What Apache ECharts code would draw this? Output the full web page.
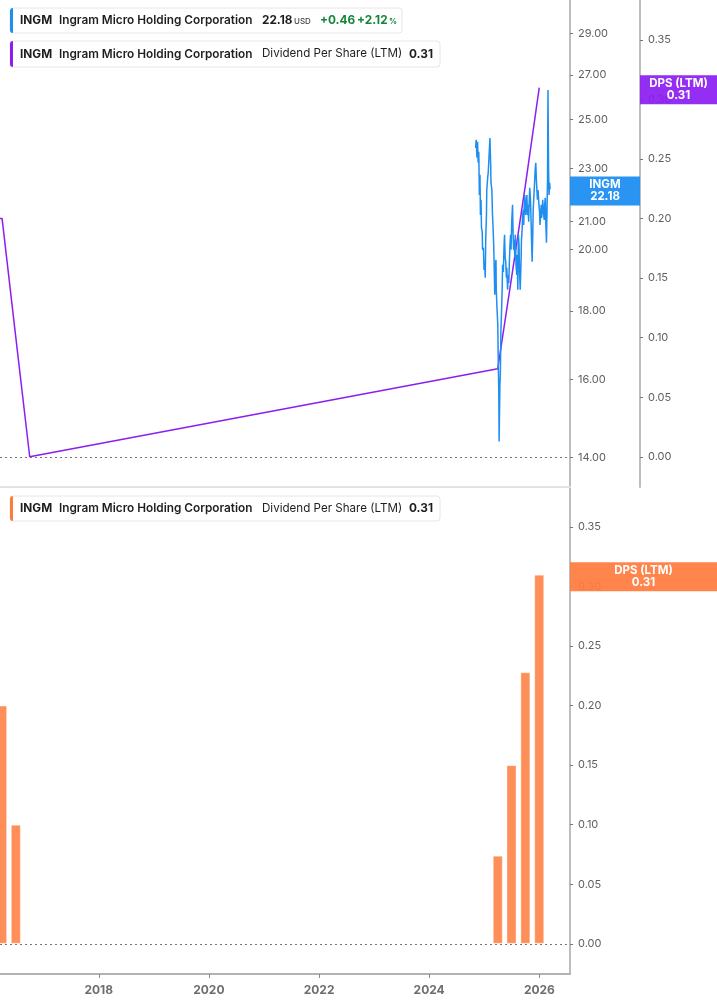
<!DOCTYPE html>
<html>
<head>
<meta charset="utf-8">
<script src="https://cdn.jsdelivr.net/npm/echarts@6/dist/echarts.min.js"></script>
<style>
html,body{margin:0;padding:0;background:#fff;}
#chart{width:717px;height:1005px;}
</style>
</head>
<body>
<div id="chart"></div>
<script>
// ---- Data ----
var priceDates = [
'2024-11-04','2024-11-08','2024-11-13','2024-11-17','2024-11-21','2024-11-25','2024-11-29','2024-12-03','2024-12-06','2024-12-10',
'2024-12-13','2024-12-18','2024-12-20','2024-12-26','2024-12-30','2025-01-03','2025-01-07','2025-01-10','2025-01-15','2025-01-17',
'2025-01-23','2025-01-27','2025-01-31','2025-02-04','2025-02-07','2025-02-12','2025-02-14','2025-02-20','2025-02-24','2025-02-28',
'2025-03-04','2025-03-07','2025-03-11','2025-03-14','2025-03-19','2025-03-21','2025-03-27','2025-03-31','2025-04-03','2025-04-07',
'2025-04-09','2025-04-14','2025-04-17','2025-04-21','2025-04-25','2025-04-29','2025-05-02','2025-05-07','2025-05-12','2025-05-15',
'2025-05-19','2025-05-23','2025-05-27','2025-05-30','2025-06-04','2025-06-09','2025-06-12','2025-06-16','2025-06-20','2025-06-24',
'2025-06-27','2025-07-02','2025-07-07','2025-07-10','2025-07-14','2025-07-18','2025-07-22','2025-07-25','2025-07-30','2025-08-04',
'2025-08-07','2025-08-11','2025-08-15','2025-08-19','2025-08-22','2025-08-27','2025-09-02','2025-09-04','2025-09-08','2025-09-12',
'2025-09-16','2025-09-19','2025-09-24','2025-09-26','2025-10-02','2025-10-06','2025-10-10','2025-10-14','2025-10-17','2025-10-22',
'2025-10-24','2025-10-29','2025-11-03','2025-11-06','2025-11-10','2025-11-14','2025-11-18','2025-11-21','2025-11-26','2025-12-01',
'2025-12-04','2025-12-08','2025-12-12','2025-12-16','2025-12-19','2025-12-23','2025-12-29','2026-01-02','2026-01-05','2026-01-09',
'2026-01-13','2026-01-16','2026-01-21','2026-01-23','2026-01-28','2026-02-02','2026-02-05','2026-02-09','2026-02-13','2026-02-17',
'2026-02-20','2026-02-24','2026-02-27','2026-03-03','2026-03-06','2026-03-10','2026-03-13'
];
var priceValues = [
23.82,24.15,23.42,24.07,23.22,23.66,21.97,22.75,21.23,21.79,
20.76,20.62,20.00,20.07,19.32,19.59,19.06,20.34,21.23,22.16,
22.63,22.86,23.34,23.82,24.23,23.14,22.43,22.16,21.23,20.76,
20.17,19.49,18.51,19.39,19.66,18.67,17.98,17.59,16.56,15.59,
14.39,15.86,16.14,17.43,17.98,18.67,19.49,19.25,20.17,20.52,
19.73,19.59,19.06,19.39,18.67,19.15,18.89,19.59,20.17,20.52,
20.00,21.05,21.60,20.69,20.00,20.34,19.73,20.52,19.49,19.15,
19.83,18.67,20.52,20.17,19.32,18.67,19.73,20.34,20.62,21.23,
21.42,20.87,21.79,21.97,21.23,21.60,21.97,21.23,21.60,20.98,
21.42,22.24,21.79,21.23,20.34,19.59,20.52,21.42,21.97,22.55,
22.94,23.22,22.55,22.09,21.79,22.16,21.60,21.35,20.87,21.23,
21.60,21.12,21.42,21.79,21.35,21.05,21.60,21.86,20.87,20.24,
21.23,22.55,26.31,22.94,21.97,22.43,22.18
];
var dpsDates = ['2015-12-31','2016-03-31','2016-06-30','2016-09-30','2025-03-31','2025-06-30','2025-09-30','2025-12-31'];
var dpsValues = [0.20, 0.20, 0.10, 0.00, 0.074, 0.15, 0.228, 0.31];
var priceTicks = [14, 16, 18, 20, 21, 23, 25, 27, 29];
var dpsTicks = [0, 0.05, 0.10, 0.15, 0.20, 0.25, 0.30, 0.35];
var yearTicks = ['2018-01-01','2020-01-01','2022-01-01','2024-01-01','2026-01-01'];
var lastPrice = 22.18, lastDps = 0.31;
var priceRange = [13.31, 30.70];
var dpsRange = [-0.0254, 0.3836];
var timeRange = ['2016-03-17', '2026-07-23'];

// ---- Chart ----
var FONT = 'Inter, "Noto Sans", sans-serif';
var BLUE = '#1f8ef1', PURPLE = '#8c1ef2', ORANGE = '#ff8f59', ORANGE_BOX = 'rgba(255,124,64,0.93)';
var HIDDEN = 'rgba(0,0,0,0)';
var chart = echarts.init(document.getElementById('chart'), null, {renderer: 'canvas'});
function ts(d) { return +echarts.number.parseDate(d); }

var priceData = priceDates.map(function (d, i) { return [ts(d), Math.log(priceValues[i])]; });
var dpsData = dpsDates.map(function (d, i) { return [ts(d), dpsValues[i]]; });
var yearTickTs = yearTicks.map(ts);

function xAxisBase(grid, showLabels) {
  return {
    type: 'value', gridIndex: grid, min: ts(timeRange[0]), max: ts(timeRange[1]),
    axisLine: showLabels ? {show: true, onZero: false, lineStyle: {color: '#b3b3b3', width: 2}}
                         : {show: true, onZero: false, lineStyle: {color: '#e2e2e2', width: 2}},
    axisTick: {show: showLabels, customValues: yearTickTs, length: 4, lineStyle: {color: '#888'}},
    axisLabel: {show: showLabels, customValues: yearTickTs, margin: 10,
      formatter: function (v) { return String(new Date(v + 43200000).getFullYear()); },
      color: '#6e6e6e', fontWeight: 'bold', fontSize: 12, fontFamily: FONT},
    splitLine: {show: false}
  };
}
function dpsAxis(grid, offset) {
  return {
    type: 'value', gridIndex: grid, position: 'right', offset: offset,
    min: dpsRange[0], max: dpsRange[1],
    axisLine: {show: true, onZero: false, lineStyle: {color: '#bdbdbd', width: 2}},
    axisTick: {show: true, length: 3, customValues: dpsTicks, lineStyle: {color: '#777'}},
    axisLabel: {customValues: dpsTicks, margin: 8, formatter: function (v) { return v.toFixed(2); },
      color: '#5f5f5f', fontSize: 11, fontFamily: FONT},
    splitLine: {show: false}
  };
}
function boxLabel(title, value, color, w, dist) {
  return {
    show: true, position: 'end', distance: dist, opacity: 1, offset: [0, 2],
    formatter: '{a|' + title + '}\n{a|' + value + '}',
    backgroundColor: color, padding: [2, 0, 3, 0],
    rich: {a: {width: w, align: 'center', color: '#fff', fontWeight: 'bold', fontSize: 11.5, lineHeight: 12, fontFamily: FONT}}
  };
}
var zeroLine = {yAxis: 0, lineStyle: {type: [2, 3], color: '#777', width: 1}, label: {show: false}};

function legendBox(y, h, barColor, w, pieces) {
  var children = [
    {type: 'rect', shape: {x: 10, y: y, width: w, height: h, r: 3}, style: {fill: '#fff', stroke: '#e6e6e6', lineWidth: 1}},
    {type: 'rect', shape: {x: 10, y: y, width: 3, height: h, r: [3, 0, 0, 3]}, style: {fill: barColor}}
  ];
  pieces.forEach(function (p) {
    children.push({type: 'text', style: {text: p[0], x: p[1], y: y + h / 2 + (p[4] || 0), verticalAlign: 'middle',
      font: p[2] + ' ' + FONT, fill: p[3] || '#1e1e1e'}});
  });
  return {type: 'group', children: children, z: 100};
}
var GREEN = '#15853a';
var graphic = [
  legendBox(8, 25, BLUE, 392, [
    ['INGM', 20, '700 11.8px'], ['Ingram Micro Holding Corporation', 59, '600 11.8px'],
    [lastPrice.toFixed(2), 262, '700 11.8px'], ['USD', 294, '500 8px', '#444', 1.5],
    ['+0.46', 320, '700 11.8px', GREEN], ['+2.12', 357, '700 11.8px', GREEN], ['%', 389, '600 8px', GREEN, 1.5]
  ]),
  legendBox(41, 26, PURPLE, 430, [
    ['INGM', 20, '700 11.8px'], ['Ingram Micro Holding Corporation', 59, '600 11.8px'],
    ['Dividend Per Share (LTM)', 262, '400 11.6px'], [lastDps.toFixed(2), 409, '700 11.8px']
  ]),
  legendBox(496, 25, '#ff7a3d', 430, [
    ['INGM', 20, '700 11.8px'], ['Ingram Micro Holding Corporation', 59, '600 11.8px'],
    ['Dividend Per Share (LTM)', 262, '400 11.6px'], [lastDps.toFixed(2), 409, '700 11.8px']
  ])
];

var option = {
  animation: false,
  backgroundColor: '#fff',
  textStyle: {fontFamily: FONT},
  grid: [
    {left: 0, right: 147, top: 0, height: 487},
    {left: 0, right: 147, top: 487, height: 487}
  ],
  xAxis: [xAxisBase(0, false), xAxisBase(1, true)],
  yAxis: [
    {
      type: 'value', gridIndex: 0, position: 'right',
      min: Math.log(priceRange[0]), max: Math.log(priceRange[1]),
      axisLine: {show: true, onZero: false, lineStyle: {color: '#bdbdbd', width: 2}},
      axisTick: {show: true, length: 3, customValues: priceTicks.map(Math.log), lineStyle: {color: '#777'}},
      axisLabel: {customValues: priceTicks.map(Math.log), margin: 8,
        formatter: function (v) { return Math.exp(v).toFixed(2); }, color: '#5f5f5f', fontSize: 11, fontFamily: FONT},
      splitLine: {show: false}
    },
    dpsAxis(0, 70),
    dpsAxis(1, 0)
  ],
  graphic: graphic,
  series: [
    {
      type: 'line', name: 'DPS (LTM)', xAxisIndex: 0, yAxisIndex: 1, data: dpsData,
      showSymbol: false, symbol: 'none', lineStyle: {color: PURPLE, width: 1.5}, z: 3,
      markLine: {silent: true, symbol: 'none', animation: false, z: 10,
        data: [zeroLine, {yAxis: lastDps, lineStyle: {color: HIDDEN, width: 1},
          label: boxLabel('DPS (LTM)', lastDps.toFixed(2), 'rgba(140,30,242,0.93)', 77, 70)}]}
    },
    {
      type: 'line', name: 'INGM', xAxisIndex: 0, yAxisIndex: 0, data: priceData,
      showSymbol: false, symbol: 'none', lineStyle: {color: BLUE, width: 1.5}, z: 4,
      markLine: {silent: true, symbol: 'none', animation: false, z: 10,
        data: [{yAxis: Math.log(lastPrice), lineStyle: {color: HIDDEN, width: 1},
          label: boxLabel('INGM', lastPrice.toFixed(2), 'rgba(31,142,241,0.95)', 70, 0)}]}
    },
    {
      type: 'bar', name: 'DPS (LTM) bars', xAxisIndex: 1, yAxisIndex: 2, data: dpsData,
      barWidth: 10, itemStyle: {color: ORANGE, borderColor: 'rgba(255,255,255,0.35)', borderWidth: 1},
      markLine: {silent: true, symbol: 'none', animation: false, z: 10,
        data: [zeroLine, {yAxis: lastDps, lineStyle: {color: HIDDEN, width: 1},
          label: boxLabel('DPS (LTM)', lastDps.toFixed(2), ORANGE_BOX, 147, 0)}]}
    }
  ]
};
chart.setOption(option);
</script>
</body>
</html>
